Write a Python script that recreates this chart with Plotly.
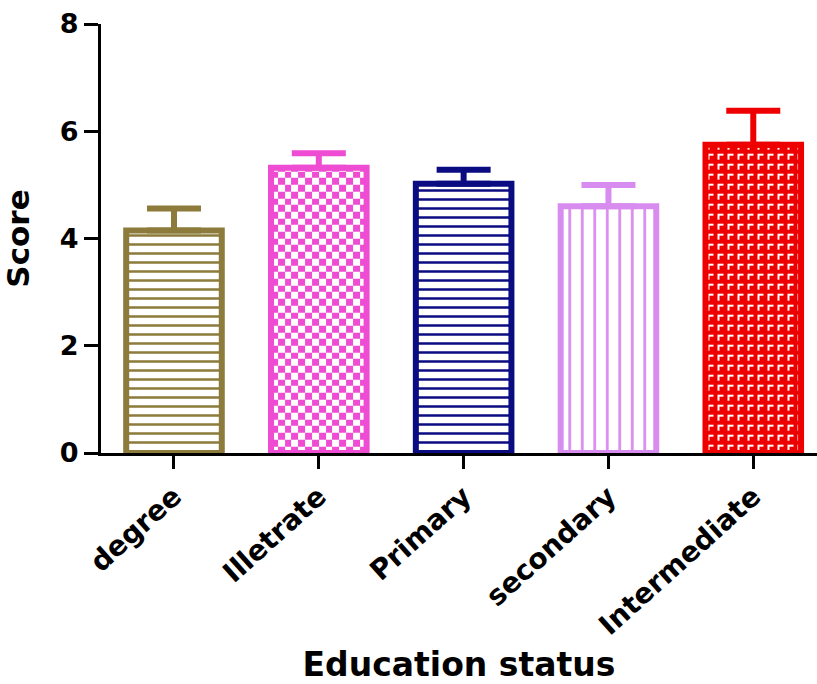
import numpy as np
import plotly.graph_objects as go

# Mean score per education group, with the upper error (SEM)
categories = ["degree", "Illetrate", "Primary", "secondary", "Intermediate"]
scores = [4.15, 5.32, 5.02, 4.60, 5.75]
errors = [0.41, 0.27, 0.26, 0.40, 0.63]
y_ticks = [0, 2, 4, 6, 8]

colors = ["#8C7B3A", "#EE4CD2", "#0C0C82", "#D98CF0", "#EE0000"]
fills = ["-", "checker", "-", "|", "corner"]
BAR_W = 0.66
FONT = "DejaVu Sans"

fig = go.Figure()
xpos = list(range(len(categories)))


def edges(lo, hi, step):
    e = list(np.arange(lo, hi, step))
    if hi - e[-1] < step * 0.2:
        e[-1] = hi
    else:
        e.append(hi)
    return np.array(e)


for i, (x, v, c, f) in enumerate(zip(xpos, scores, colors, fills)):
    # textured fills that plotly patterns cannot express are laid down as heatmaps
    if f == "checker":
        xe = np.linspace(x - BAR_W / 2, x + BAR_W / 2, 15)
        ye = edges(0, v, 0.125)
        nr, nc = len(ye) - 1, len(xe) - 1
        z = np.array([[(r + k) % 2 for k in range(nc)] for r in range(nr)])
        fig.add_trace(go.Heatmap(x=xe, y=ye, z=z, zmin=0, zmax=1,
                                 colorscale=[[0, "white"], [1, c]],
                                 showscale=False, hoverinfo="skip"))
    elif f == "corner":
        xe = np.linspace(x - BAR_W / 2, x + BAR_W / 2, 49)
        ye = edges(0, v, 0.0375)
        nr, nc = len(ye) - 1, len(xe) - 1
        tile = np.array([  # bottom row first; white corner mark in each 5x5 tile
            [0, 0, 0, 0, 0],
            [0, 0, 0, 0, 0],
            [0, 1, 0, 0, 0],
            [0, 1, 0, 0, 0],
            [0, 1, 1, 1, 0],
        ])
        z = np.array([[tile[(r + 1) % 5][k % 5] for k in range(nc)] for r in range(nr)])
        fig.add_trace(go.Heatmap(x=xe, y=ye, z=z, zmin=0, zmax=1,
                                 colorscale=[[0, c], [1, "white"]],
                                 showscale=False, hoverinfo="skip"))

    if f in ("-", "|"):
        marker = dict(color="white", line=dict(color=c, width=6),
                      pattern=dict(shape=f, fgcolor=c, bgcolor="white",
                                   size=9 if f == "-" else 12.5,
                                   solidity=0.28 if f == "-" else 0.22,
                                   fillmode="replace"))
    else:
        marker = dict(color="rgba(0,0,0,0)", line=dict(color=c, width=6))

    fig.add_trace(go.Bar(
        x=[x], y=[v], width=BAR_W, marker=marker, name=categories[i],
        error_y=dict(type="data", symmetric=False, array=[errors[i]],
                     arrayminus=[0], color=c, thickness=6, width=27),
        showlegend=False,
    ))

fig.update_layout(
    width=817, height=684,
    margin=dict(l=101, r=0, t=24, b=231),
    paper_bgcolor="white", plot_bgcolor="white",
    barmode="overlay",
    font=dict(family=FONT, color="black"),
)
fig.update_xaxes(
    range=[-0.504, 4.44], tickmode="array", tickvals=xpos, ticktext=categories,
    tickangle=-42, ticks="outside", ticklen=13, tickwidth=3, tickcolor="black",
    showline=True, linewidth=3, linecolor="black", showgrid=False, zeroline=False,
    tickfont=dict(family=FONT, size=28, color="black", weight="bold"),
    title=dict(text="<b>Education status</b>", standoff=18,
               font=dict(family=FONT, size=33, color="black")),
)
fig.update_yaxes(
    range=[0, 8], tickvals=y_ticks, ticks="outside", ticklen=14, tickwidth=3,
    tickcolor="black", showline=True, linewidth=3, linecolor="black",
    showgrid=False, zeroline=False,
    tickfont=dict(family=FONT, size=27, color="black", weight="bold"),
    title=dict(text="<b>Score</b>", standoff=25,
               font=dict(family=FONT, size=31, color="black")),
)

fig.write_html("out.html")
